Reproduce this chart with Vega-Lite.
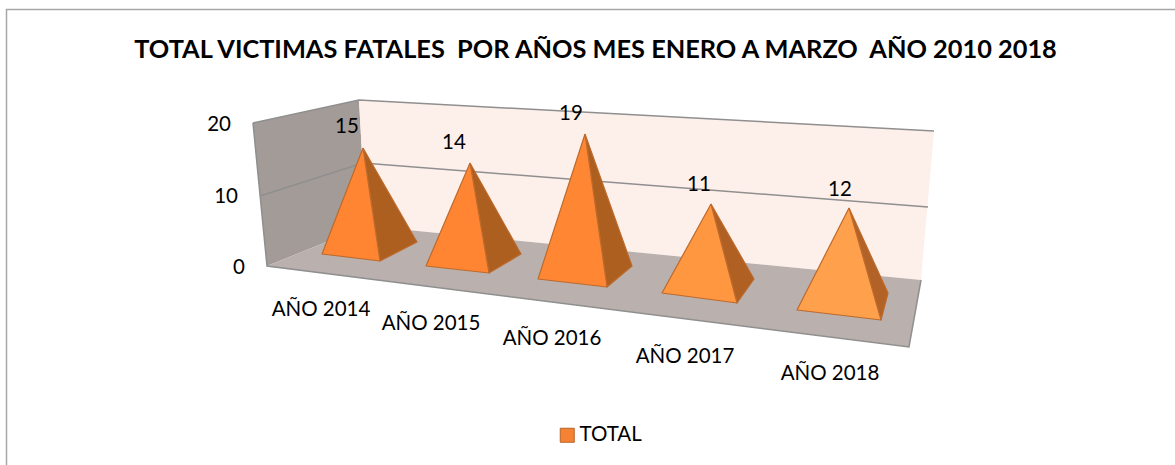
{
"$schema":"https://vega.github.io/schema/vega-lite/v6.json",
"width":1175,"height":465,"padding":0,"autosize":{"type":"none"},
"background":"white",
"config":{"view":{"stroke":null}},
"title":{"text":"TOTAL VICTIMAS FATALES \u00a0POR AÑOS MES ENERO A MARZO \u00a0AÑO 2010 2018","font":"Lato","fontSize":25.35,"fontWeight":"bold","color":"#000000","anchor":"middle","dx":8,"dy":66,"offset":0},
"datasets":{
"polys":[
{"part":"wallLeft","v":0,"x":253,"y":123},{"part":"wallLeft","v":1,"x":359,"y":100},{"part":"wallLeft","v":2,"x":366,"y":226},{"part":"wallLeft","v":3,"x":267,"y":266},{"part":"wallLeft","v":4,"x":253,"y":123},
{"part":"wallBack","v":0,"x":359,"y":100},{"part":"wallBack","v":1,"x":934,"y":131},{"part":"wallBack","v":2,"x":921,"y":280},{"part":"wallBack","v":3,"x":366,"y":226},{"part":"wallBack","v":4,"x":359,"y":100},
{"part":"floor","v":0,"x":267,"y":266},{"part":"floor","v":1,"x":366,"y":226},{"part":"floor","v":2,"x":921,"y":280},{"part":"floor","v":3,"x":909,"y":347},{"part":"floor","v":4,"x":267,"y":266}
],
"edges":[
{"edge":"g10a","v":0,"x":260,"y":196},{"edge":"g10a","v":1,"x":363,"y":163},{"edge":"g10a","v":2,"x":928,"y":207},
{"edge":"g20a","v":0,"x":253,"y":123},{"edge":"g20a","v":1,"x":359,"y":100},{"edge":"g20a","v":2,"x":934,"y":131},
{"edge":"leftEdge","v":0,"x":253,"y":123},{"edge":"leftEdge","v":1,"x":267,"y":266},{"edge":"leftEdge","v":2,"x":909,"y":347},{"edge":"leftEdge","v":3,"x":921,"y":280},
{"edge":"border","v":0,"x":6.5,"y":465},{"edge":"border","v":1,"x":6.5,"y":9.5},{"edge":"border","v":2,"x":1175,"y":9.5}
],
"pyramids":[
{"year":"AÑO 2014","total":15,"part":"side14","v":0,"x":363,"y":148},{"year":"AÑO 2014","total":15,"part":"side14","v":1,"x":417,"y":242},{"year":"AÑO 2014","total":15,"part":"side14","v":2,"x":380,"y":261},{"year":"AÑO 2014","total":15,"part":"side14","v":3,"x":363,"y":148},
{"year":"AÑO 2014","total":15,"part":"front14","v":0,"x":363,"y":148},{"year":"AÑO 2014","total":15,"part":"front14","v":1,"x":380,"y":261},{"year":"AÑO 2014","total":15,"part":"front14","v":2,"x":322,"y":254},{"year":"AÑO 2014","total":15,"part":"front14","v":3,"x":363,"y":148},
{"year":"AÑO 2015","total":14,"part":"side15","v":0,"x":470,"y":163},{"year":"AÑO 2015","total":14,"part":"side15","v":1,"x":521,"y":254},{"year":"AÑO 2015","total":14,"part":"side15","v":2,"x":489,"y":273},{"year":"AÑO 2015","total":14,"part":"side15","v":3,"x":470,"y":163},
{"year":"AÑO 2015","total":14,"part":"front15","v":0,"x":470,"y":163},{"year":"AÑO 2015","total":14,"part":"front15","v":1,"x":489,"y":273},{"year":"AÑO 2015","total":14,"part":"front15","v":2,"x":426,"y":266},{"year":"AÑO 2015","total":14,"part":"front15","v":3,"x":470,"y":163},
{"year":"AÑO 2016","total":19,"part":"side16","v":0,"x":585,"y":134},{"year":"AÑO 2016","total":19,"part":"side16","v":1,"x":632,"y":266},{"year":"AÑO 2016","total":19,"part":"side16","v":2,"x":607,"y":287},{"year":"AÑO 2016","total":19,"part":"side16","v":3,"x":585,"y":134},
{"year":"AÑO 2016","total":19,"part":"front16","v":0,"x":585,"y":134},{"year":"AÑO 2016","total":19,"part":"front16","v":1,"x":607,"y":287},{"year":"AÑO 2016","total":19,"part":"front16","v":2,"x":538,"y":279},{"year":"AÑO 2016","total":19,"part":"front16","v":3,"x":585,"y":134},
{"year":"AÑO 2017","total":11,"part":"side17","v":0,"x":711,"y":204},{"year":"AÑO 2017","total":11,"part":"side17","v":1,"x":754,"y":279},{"year":"AÑO 2017","total":11,"part":"side17","v":2,"x":737,"y":303},{"year":"AÑO 2017","total":11,"part":"side17","v":3,"x":711,"y":204},
{"year":"AÑO 2017","total":11,"part":"front17","v":0,"x":711,"y":204},{"year":"AÑO 2017","total":11,"part":"front17","v":1,"x":737,"y":303},{"year":"AÑO 2017","total":11,"part":"front17","v":2,"x":662,"y":293},{"year":"AÑO 2017","total":11,"part":"front17","v":3,"x":711,"y":204},
{"year":"AÑO 2018","total":12,"part":"side18","v":0,"x":849,"y":208},{"year":"AÑO 2018","total":12,"part":"side18","v":1,"x":888,"y":293},{"year":"AÑO 2018","total":12,"part":"side18","v":2,"x":881,"y":320},{"year":"AÑO 2018","total":12,"part":"side18","v":3,"x":849,"y":208},
{"year":"AÑO 2018","total":12,"part":"front18","v":0,"x":849,"y":208},{"year":"AÑO 2018","total":12,"part":"front18","v":1,"x":881,"y":320},{"year":"AÑO 2018","total":12,"part":"front18","v":2,"x":797,"y":310},{"year":"AÑO 2018","total":12,"part":"front18","v":3,"x":849,"y":208}
],
"labels":[
{"label":"15","x":347,"y":127},{"label":"14","x":454,"y":143},{"label":"19","x":571,"y":114},{"label":"11","x":699,"y":185},{"label":"12","x":840,"y":190},
{"label":"AÑO 2014","x":321,"y":310},{"label":"AÑO 2015","x":431,"y":324},{"label":"AÑO 2016","x":552,"y":339},{"label":"AÑO 2017","x":685,"y":357},{"label":"AÑO 2018","x":830,"y":374}
],
"ticks":[{"label":"20","x":231,"y":125},{"label":"10","x":238,"y":197},{"label":"0","x":245,"y":268}],
"legend":[{"series":"TOTAL"}]
},
"encoding":{
"x":{"field":"x","type":"quantitative","scale":{"domain":[0,1175],"nice":false,"zero":false},"axis":null},
"y":{"field":"y","type":"quantitative","scale":{"domain":[465,0],"nice":false,"zero":false},"axis":null}
},
"resolve":{"scale":{"fill":"independent","stroke":"independent","color":"independent"}},
"layer":[
{"data":{"name":"polys"},"mark":{"type":"line","strokeWidth":0,"clip":false},
 "encoding":{"detail":{"field":"part"},"order":{"field":"v"},
 "fill":{"field":"part","type":"nominal","legend":null,"scale":{"domain":["wallLeft","wallBack","floor"],"range":["#a39b97","#fdf0eb","#bab0ae"]}}}},
{"data":{"name":"edges"},"mark":{"type":"line","strokeWidth":1.5},
 "encoding":{"detail":{"field":"edge"},"order":{"field":"v"},
 "stroke":{"field":"edge","type":"nominal","legend":null,"scale":{"domain":["g10a","g20a","leftEdge","border"],"range":["#8f8f8f","#8f8f8f","#8f8f8f","#a6a6a6"]}}}},
{"data":{"name":"pyramids"},"mark":{"type":"line","strokeWidth":1.2,"stroke":"#bd6a2c","strokeJoin":"round"},
 "encoding":{"detail":{"field":"part"},"order":{"field":"v"},
 "fill":{"field":"part","type":"nominal","legend":null,"scale":{"domain":["side14","front14","side15","front15","side16","front16","side17","front17","side18","front18"],"range":["#ad5f20","#ff8533","#ad5f20","#ff8533","#ad5f20","#ff8733","#b06022","#ff9640","#b26226","#ffa04c"]}}}},
{"data":{"name":"labels"},"mark":{"type":"text","font":"Lato","fontSize":20.5,"color":"#000000","align":"center","baseline":"middle"},"encoding":{"text":{"field":"label"}}},
{"data":{"name":"ticks"},"mark":{"type":"text","font":"Lato","fontSize":20.5,"color":"#000000","align":"right","baseline":"middle"},"encoding":{"text":{"field":"label"}}},
{"data":{"name":"legend"},"mark":{"type":"point","filled":true,"shape":"square","opacity":0},
 "encoding":{"x":{"value":0},"y":{"value":0},"color":{"field":"series","type":"nominal","scale":{"domain":["TOTAL"],"range":["#f58233"]},
 "legend":{"orient":"none","legendX":557,"legendY":425,"title":null,"symbolType":"square","symbolSize":196,"symbolOpacity":1,"symbolStrokeColor":"#b5642a","symbolStrokeWidth":1,"labelFont":"Lato","labelFontSize":20.5,"labelColor":"#000000","labelOffset":2}}}}
]
}
